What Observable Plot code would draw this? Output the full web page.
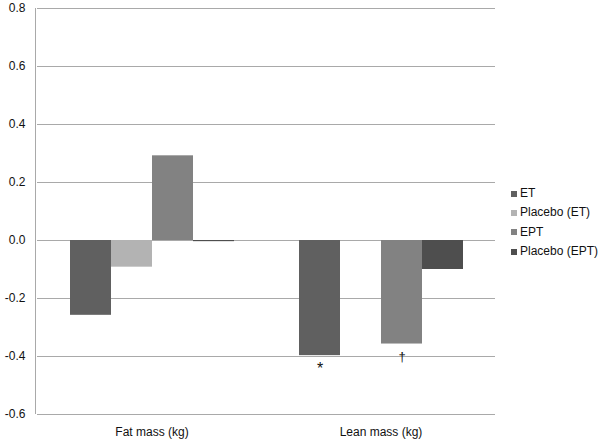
<!DOCTYPE html>
<html>
<head>
<meta charset="utf-8">
<script src="https://cdn.jsdelivr.net/npm/d3@7"></script>
<script src="https://cdn.jsdelivr.net/npm/@observablehq/plot@0.6"></script>
<style>
  html, body { margin: 0; padding: 0; background: #fff; }
  #wrap { position: relative; width: 605px; height: 440px; font-family: "Liberation Sans", Arial, sans-serif; }
  #legend { position: absolute; left: 511px; top: 184px; font-size: 12px; color: #111; }
  #legend .row { height: 19.3px; line-height: 19.3px; display: flex; align-items: center; white-space: nowrap; }
  #legend .sw { width: 6px; height: 6px; margin-right: 3px; }
</style>
</head>
<body>
<div id="wrap"><div id="legend"></div></div>
<script>
const categories = ["Fat mass (kg)", "Lean mass (kg)"];
const series = ["ET", "Placebo (ET)", "EPT", "Placebo (EPT)"];
const fatValues = [-0.258, -0.092, 0.292, -0.004];
const leanValues = [-0.397, 0, -0.357, -0.100];
const colors = ["#606060", "#b3b3b3", "#828282", "#4e4e4e"];
const yTicks = [-0.6, -0.4, -0.2, 0.0, 0.2, 0.4, 0.6, 0.8];
const annotations = [
  {category: "Lean mass (kg)", series: "ET", label: "*"},
  {category: "Lean mass (kg)", series: "EPT", label: "†"}
];

const valuesByCategory = [fatValues, leanValues];
const rows = categories.flatMap((c, i) =>
  series.map((s, j) => ({category: c, series: s, value: valuesByCategory[i][j]})));
const notes = annotations.map(a => ({
  ...a,
  value: rows.find(r => r.category === a.category && r.series === a.series).value
}));

const chart = Plot.plot({
  width: 605,
  height: 440,
  marginLeft: 36,
  marginRight: 110,
  marginTop: 8,
  marginBottom: 26,
  style: {fontFamily: "'Liberation Sans', Arial, sans-serif", fontSize: "12px", color: "#111", background: "#fff"},
  fx: {domain: categories, padding: 0, label: null},
  x: {domain: series, paddingInner: 0, paddingOuter: 0.752, axis: null},
  y: {domain: [-0.6, 0.8], label: null},
  color: {domain: series, range: colors},
  marks: [
    Plot.ruleY(yTicks, {stroke: "#a9a9a9", strokeWidth: 1}),
    Plot.axisY(yTicks, {tickSize: 0, tickPadding: 12, tickFormat: d => d.toFixed(1), label: null, fill: "#111"}),
    Plot.axisFx({anchor: "bottom", tickSize: 0, tickPadding: 13, label: null, fill: "#111"}),
    Plot.barY(rows, {fx: "category", x: "series", y: "value", fill: "series"}),
    Plot.text(notes.filter(d => d.label === "*"), {fx: "category", x: "series", y: "value", text: "label", dy: 13, fontSize: 16, fill: "#111"}),
    Plot.text(notes.filter(d => d.label !== "*"), {fx: "category", x: "series", y: "value", text: "label", dy: 13, fontSize: 13, fill: "#111"})
  ]
});
const wrap = document.getElementById("wrap");
wrap.insertBefore(chart, wrap.firstChild);

// y axis line along the left edge of the frame, drawn through the y scale
const y = chart.scale("y");
const svg = d3.select(chart);
svg.append("line")
  .attr("x1", 35.5).attr("x2", 35.5)
  .attr("y1", y.apply(yTicks[yTicks.length - 1])).attr("y2", y.apply(yTicks[0]))
  .attr("stroke", "#a9a9a9");

const legend = d3.select("#legend");
series.forEach((s, i) => {
  const row = legend.append("div").attr("class", "row");
  row.append("div").attr("class", "sw").style("background", colors[i]);
  row.append("span").text(s);
});
</script>
</body>
</html>
